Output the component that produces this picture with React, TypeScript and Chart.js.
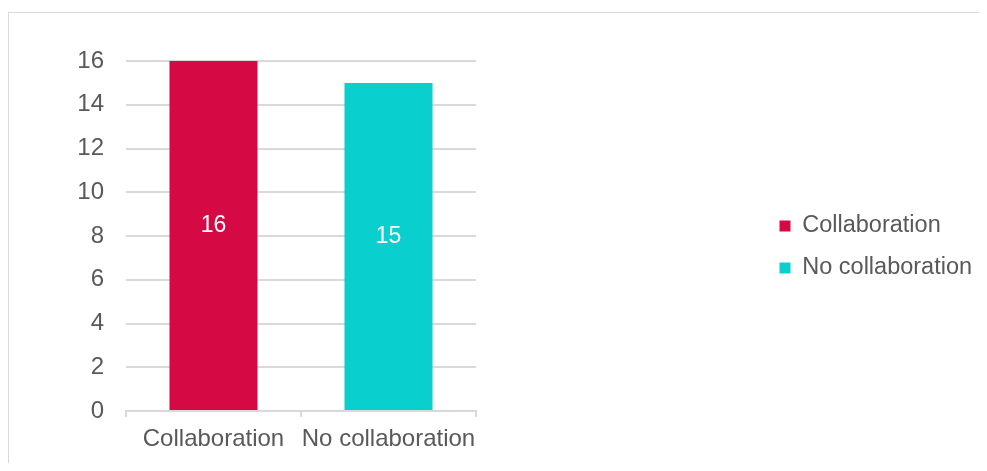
import React, { useEffect, useRef } from "react";
import { Chart, registerables } from "chart.js";

Chart.register(...registerables);

const categories = ["Collaboration", "No collaboration"];
const values = [16, 15];
const barColors = ["#D50A45", "#0ACFCF"];
const yTickMin = 0;
const yTickMax = 16;
const yTickStep = 2;

const FONT = '"Liberation Sans", Arial, sans-serif';
const TEXT = "#595959";
const GRID = "#d9d9d9";

const CANVAS_W = 970;
const CANVAS_H = 450;
const PLOT_RIGHT = 467;
const LEGEND_LEFT = 752;

const barLabelPlugin = {
  id: "barLabels",
  afterDatasetsDraw(chart: any) {
    const ctx = chart.ctx;
    const meta = chart.getDatasetMeta(0);
    meta.data.forEach((bar: any, i: number) => {
      const { x, y, base } = bar.getProps(["x", "y", "base"], true);
      ctx.save();
      ctx.fillStyle = "#ffffff";
      ctx.font = `23px ${FONT}`;
      ctx.textAlign = "center";
      ctx.textBaseline = "middle";
      ctx.fillText(String(values[i]), x, (y + base) / 2 - 10);
      ctx.restore();
    });
  },
};

const legendLayoutPlugin = {
  id: "legendLayout",
  beforeLayout(chart: any) {
    const legend = chart.legend;
    if (legend && !legend.__patched) {
      const orig = legend.fit;
      legend.fit = function () {
        orig.call(this);
        this.width = CANVAS_W - PLOT_RIGHT;
      };
      legend.__patched = true;
    }
  },
  afterLayout(chart: any) {
    if (chart.legend) chart.legend.left = LEGEND_LEFT;
  },
};

export default function App() {
  const canvasRef = useRef<HTMLCanvasElement | null>(null);

  useEffect(() => {
    if (!canvasRef.current) return;
    const chart = new Chart(canvasRef.current, {
      type: "bar",
      data: {
        labels: categories,
        datasets: [
          {
            label: "Series",
            data: values,
            backgroundColor: barColors,
            borderWidth: 0,
            categoryPercentage: 1,
            barPercentage: 0.503,
          },
        ],
      },
      options: {
        animation: false,
        responsive: true,
        maintainAspectRatio: false,
        layout: { padding: { top: 18, bottom: 0, left: 0, right: 0 } },
        plugins: {
          tooltip: { enabled: false },
          legend: {
            position: "right",
            labels: {
              boxWidth: 11,
              boxHeight: 11,
              padding: 18.5,
              color: TEXT,
              font: { family: FONT, size: 23.5 },
              generateLabels: () =>
                categories.map((c, i) => ({
                  text: c,
                  fillStyle: barColors[i],
                  strokeStyle: barColors[i],
                  lineWidth: 0,
                  hidden: false,
                  index: i,
                  fontColor: TEXT,
                })),
            },
            onClick: () => {},
          },
        },
        scales: {
          x: {
            type: "category",
            offset: true,
            grid: {
              offset: true,
              drawOnChartArea: false,
              drawTicks: true,
              tickLength: 6,
              color: GRID,
              lineWidth: 2,
            },
            border: { display: true, color: GRID, width: 2 },
            ticks: {
              padding: 8,
              color: TEXT,
              font: { family: FONT, size: 24 },
              autoSkip: false,
              maxRotation: 0,
              minRotation: 0,
            },
            afterFit: (s: any) => {
              s.height = 52;
            },
          },
          x2: {
            type: "category",
            position: "top",
            display: true,
            grid: { display: false },
            ticks: { display: false },
            border: { display: false },
            afterFit: (s: any) => {
              s.height = 30;
            },
          },
          y: {
            min: yTickMin,
            max: yTickMax,
            ticks: {
              stepSize: yTickStep,
              padding: 22,
              color: TEXT,
              font: { family: FONT, size: 24 },
            },
            grid: { color: GRID, lineWidth: 2, drawTicks: false },
            border: { display: false },
            afterFit: (s: any) => {
              s.width = 117;
            },
          },
        },
      } as any,
      plugins: [barLabelPlugin, legendLayoutPlugin],
    });
    return () => chart.destroy();
  }, []);

  return (
    <div style={{ paddingTop: 4 }}>
      <div
        style={{
          borderLeft: `1px solid ${GRID}`,
          borderTop: `1px solid ${GRID}`,
          width: 978,
          height: CANVAS_H,
        }}
      >
        <div style={{ width: CANVAS_W, height: CANVAS_H, position: "relative" }}>
          <canvas ref={canvasRef} />
        </div>
      </div>
    </div>
  );
}
